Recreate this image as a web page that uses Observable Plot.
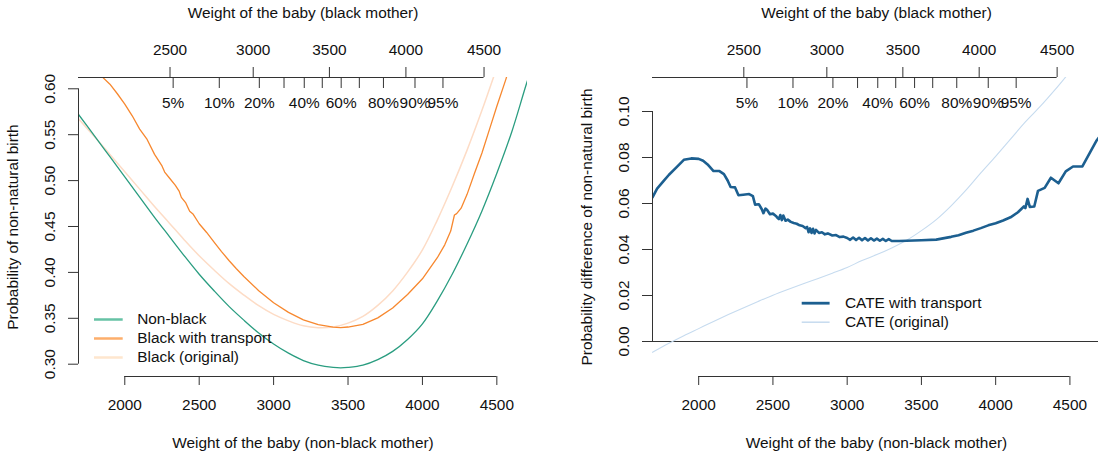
<!DOCTYPE html>
<html>
<head>
<meta charset="utf-8">
<script src="https://cdn.jsdelivr.net/npm/d3@7"></script>
<script src="https://cdn.jsdelivr.net/npm/@observablehq/plot@0.6"></script>
<style>
  body { margin: 0; background: #fff; overflow: hidden; }
  #wrap { position: relative; width: 1098px; height: 457px; overflow: hidden; }
  #wrap svg { position: absolute; top: 0; }
</style>
</head>
<body>
<div id="wrap"></div>
<script>
// ---------------- data ----------------
const xDomain = [1689, 4706];
const probTicks = [0.30, 0.35, 0.40, 0.45, 0.50, 0.55, 0.60];
const diffTicks = [0.00, 0.02, 0.04, 0.06, 0.08, 0.10];
const bottomTicks = [2000, 2500, 3000, 3500, 4000, 4500];
const blackTickLabels = ["2500", "3000", "3500", "4000", "4500"];
const blackTickPos = [2304, 2863, 3375, 3889, 4414];
const pctLabels = ["5%", "10%", "20%", "30%", "40%", "50%", "60%", "70%", "80%", "90%", "95%"];
const pctPos = [2325, 2635, 2904, 3070, 3206, 3327, 3454, 3576, 3738, 3950, 4138];
const pctShown = ["5%", "10%", "20%", "40%", "60%", "80%", "90%", "95%"];

const nonBlackW = [1689, 1800, 1900, 2000, 2100, 2200, 2300, 2400, 2500, 2600, 2700, 2800, 2900, 3000, 3100, 3200, 3300, 3400, 3450, 3500, 3600, 3700, 3800, 3900, 4000, 4100, 4200, 4300, 4400, 4500, 4600, 4700, 4800];
const nonBlackP = [0.572, 0.548, 0.526, 0.504, 0.482, 0.460, 0.439, 0.418, 0.398, 0.380, 0.363, 0.348, 0.334, 0.322, 0.312, 0.304, 0.299, 0.2965, 0.296, 0.2965, 0.299, 0.305, 0.314, 0.327, 0.344, 0.369, 0.398, 0.431, 0.467, 0.508, 0.553, 0.606, 0.656];

const transportW = [1800, 1850, 1900, 1950, 2000, 2050, 2100, 2150, 2200, 2250, 2268, 2300, 2340, 2365, 2380, 2410, 2436, 2460, 2500, 2550, 2600, 2650, 2700, 2750, 2800, 2900, 3000, 3100, 3200, 3300, 3400, 3450, 3500, 3600, 3700, 3800, 3900, 4000, 4100, 4150, 4190, 4215, 4230, 4260, 4300, 4350, 4400, 4450, 4500, 4560, 4620];
const transportP = [0.6205, 0.6127, 0.6050, 0.5946, 0.5834, 0.5706, 0.5561, 0.5448, 0.5286, 0.5160, 0.5093, 0.5028, 0.4947, 0.4886, 0.4817, 0.4757, 0.4666, 0.4633, 0.4530, 0.4435, 0.4330, 0.4227, 0.4130, 0.4040, 0.3955, 0.3801, 0.3670, 0.3565, 0.3483, 0.3431, 0.3403, 0.3399, 0.3405, 0.3433, 0.3505, 0.3613, 0.3760, 0.3930, 0.4160, 0.4300, 0.4450, 0.4625, 0.4640, 0.4700, 0.4850, 0.5080, 0.5300, 0.5555, 0.5810, 0.6100, 0.6420];

const originalW = [1689, 1800, 1900, 2000, 2100, 2200, 2300, 2400, 2500, 2600, 2700, 2800, 2900, 3000, 3100, 3200, 3300, 3400, 3500, 3600, 3700, 3800, 3900, 4000, 4100, 4200, 4300, 4400, 4500];
const originalP = [0.5673, 0.5472, 0.5285, 0.5096, 0.4907, 0.4717, 0.4536, 0.4354, 0.4181, 0.4026, 0.3880, 0.3753, 0.3637, 0.3542, 0.3472, 0.3418, 0.3397, 0.3405, 0.3447, 0.3520, 0.3640, 0.3798, 0.4003, 0.4245, 0.4570, 0.4935, 0.5332, 0.5765, 0.6232];

const cateTW = [1689, 1720, 1760, 1800, 1850, 1900, 1950, 2000, 2030, 2060, 2100, 2140, 2170, 2195, 2215, 2245, 2268, 2300, 2340, 2365, 2380, 2405, 2425, 2436, 2450, 2460, 2480, 2500, 2520, 2530, 2540, 2550, 2560, 2570, 2585, 2600, 2620, 2640, 2660, 2680, 2700, 2720, 2730, 2740, 2750, 2760, 2770, 2780, 2790, 2810, 2830, 2850, 2870, 2900, 2925, 2950, 2975, 3000, 3020, 3040, 3060, 3080, 3100, 3120, 3140, 3160, 3180, 3200, 3220, 3240, 3260, 3280, 3300, 3350, 3400, 3500, 3600, 3700, 3750, 3800, 3850, 3900, 3950, 4000, 4050, 4100, 4150, 4190, 4200, 4215, 4230, 4260, 4285, 4330, 4372, 4423, 4472, 4521, 4584, 4680, 4710];
const cateTV = [0.0627, 0.0665, 0.0695, 0.0725, 0.0757, 0.0790, 0.0796, 0.0794, 0.0786, 0.0770, 0.0741, 0.0741, 0.0728, 0.0700, 0.0672, 0.0670, 0.0636, 0.0638, 0.0641, 0.0632, 0.0595, 0.0597, 0.0575, 0.0558, 0.0578, 0.0573, 0.0553, 0.0556, 0.0546, 0.0538, 0.0532, 0.0550, 0.0528, 0.0548, 0.0525, 0.0530, 0.0520, 0.0515, 0.0512, 0.0505, 0.0502, 0.0493, 0.0498, 0.0475, 0.0492, 0.0472, 0.0490, 0.0470, 0.0485, 0.0472, 0.0475, 0.0466, 0.0470, 0.0461, 0.0463, 0.0454, 0.0456, 0.0450, 0.0442, 0.0452, 0.0441, 0.0451, 0.0440, 0.0450, 0.0439, 0.0449, 0.0439, 0.0447, 0.0438, 0.0446, 0.0437, 0.0445, 0.0437, 0.0437, 0.0438, 0.0440, 0.0443, 0.0455, 0.0462, 0.0473, 0.0482, 0.0493, 0.0505, 0.0514, 0.0526, 0.0540, 0.0562, 0.0587, 0.0580, 0.0620, 0.0585, 0.0587, 0.0655, 0.0668, 0.0712, 0.0688, 0.0740, 0.0761, 0.0761, 0.0874, 0.0900];

const cateOW = [1689, 1800, 1900, 2000, 2100, 2200, 2300, 2400, 2500, 2600, 2700, 2800, 2900, 3000, 3100, 3200, 3300, 3400, 3500, 3600, 3700, 3800, 3900, 4000, 4100, 4200, 4300, 4400, 4500, 4600];
const cateOV = [-0.0047, -0.0008, 0.0025, 0.0056, 0.0087, 0.0117, 0.0146, 0.0174, 0.0201, 0.0226, 0.0250, 0.0273, 0.0297, 0.0322, 0.0352, 0.0378, 0.0407, 0.0440, 0.0482, 0.0530, 0.0590, 0.0658, 0.0733, 0.0805, 0.0880, 0.0955, 0.1022, 0.1095, 0.1172, 0.1245];

const leftNames = ["Non-black", "Black with transport", "Black (original)"];
const rightNames = ["CATE with transport", "CATE (original)"];

// ---------------- drawing ----------------
const H = 457, MT = 77, MB = 81, ML = 78, FS = 15.4;
const ink = "#333";
const txt = {fontSize: FS, fill: "#111"};

function panel(cfg) {
  const {width, marginRight, yDomain, yTicks, yTitle, lines, legend, zeroLine} = cfg;
  const plotW = width - ML - marginRight, plotH = H - MT - MB;
  const marks = [];
  if (zeroLine) marks.push(Plot.ruleY([0], {stroke: ink, strokeWidth: 1}));
  for (const s of lines) {
    marks.push(Plot.line(d3.zip(s.x, s.y), {x: d => d[0], y: d => d[1], stroke: s.color, strokeWidth: s.width, curve: s.curve || "linear", clip: true}));
  }
  // left axis
  marks.push(Plot.ruleX([xDomain[0]], {y1: yTicks[0], y2: yTicks[yTicks.length - 1], stroke: ink}));
  marks.push(Plot.ruleY(yTicks, {insetLeft: -10, insetRight: plotW, stroke: ink}));
  marks.push(Plot.text(yTicks, {y: d => d, text: d => d3.format(".2f")(d), frameAnchor: "left", textAnchor: "middle", lineAnchor: "middle", rotate: -90, dx: -28, ...txt}));
  marks.push(Plot.text([yTitle], {text: d => d, frameAnchor: "left", textAnchor: "middle", lineAnchor: "middle", rotate: -90, dx: -65.4, ...txt}));
  // bottom axis
  marks.push(Plot.ruleY([yDomain[0]], {x1: bottomTicks[0], x2: bottomTicks[bottomTicks.length - 1], stroke: ink}));
  marks.push(Plot.ruleX(bottomTicks, {insetTop: plotH, insetBottom: -9, stroke: ink}));
  marks.push(Plot.text(bottomTicks, {x: d => d, text: d => String(d), frameAnchor: "bottom", lineAnchor: "middle", dy: 29, ...txt}));
  marks.push(Plot.text(["Weight of the baby (non-black mother)"], {text: d => d, frameAnchor: "bottom", lineAnchor: "middle", dy: 67, ...txt}));
  // top axis (black mother)
  marks.push(Plot.ruleY([yDomain[1]], {x1: xDomain[0], x2: blackTickPos[blackTickPos.length - 1], stroke: ink}));
  marks.push(Plot.ruleX(blackTickPos, {insetTop: -10, insetBottom: plotH, stroke: ink}));
  marks.push(Plot.text(blackTickLabels, {x: (d, i) => blackTickPos[i], text: d => d, frameAnchor: "top", lineAnchor: "middle", dy: -27, ...txt}));
  marks.push(Plot.ruleX(pctPos, {insetBottom: plotH - 11, stroke: ink}));
  marks.push(Plot.text(pctLabels, {x: (d, i) => pctPos[i], text: d => d, filter: d => pctShown.includes(d), frameAnchor: "top", lineAnchor: "middle", dy: 25.5, ...txt}));
  marks.push(Plot.text(["Weight of the baby (black mother)"], {text: d => d, frameAnchor: "top", lineAnchor: "middle", dy: -64, ...txt}));
  // legend
  legend.items.forEach((it, k) => {
    const dy = legend.dy0 + k * legend.step;
    marks.push(Plot.ruleY([yDomain[1]], {dy, insetLeft: legend.x1, insetRight: plotW - legend.x2, stroke: it.color, strokeWidth: it.width}));
    marks.push(Plot.text([it.name], {text: d => d, frameAnchor: "top-left", textAnchor: "start", lineAnchor: "middle", dx: legend.tx, dy, ...txt}));
  });
  return Plot.plot({
    width, height: H,
    marginTop: MT, marginBottom: MB, marginLeft: ML, marginRight,
    x: {domain: xDomain, axis: null},
    y: {domain: yDomain, axis: null},
    style: {fontFamily: "'Liberation Sans', Arial, Helvetica, sans-serif", fontSize: FS + "px", background: "transparent", overflow: "visible", color: "#111"},
    marks
  });
}

const left = panel({
  width: 549, marginRight: 22,
  yDomain: [0.2866, 0.6123], yTicks: probTicks,
  yTitle: "Probability of non-natural birth",
  lines: [
    {x: originalW, y: originalP, color: "#fddcc6", width: 1.5, curve: "catmull-rom"},
    {x: nonBlackW, y: nonBlackP, color: "#2a9d80", width: 1.3, curve: "catmull-rom"},
    {x: transportW, y: transportP, color: "#f7882f", width: 1.3}
  ],
  legend: {
    x1: 16, x2: 44.7, tx: 58.7, dy0: 242, step: 19,
    items: [
      {name: leftNames[0], color: "#66c2a5", width: 2.5},
      {name: leftNames[1], color: "#fdae6b", width: 2.5},
      {name: leftNames[2], color: "#fee6ce", width: 2.5}
    ]
  }
});

const right = panel({
  width: 526, marginRight: 0,
  yDomain: [-0.015217, 0.114783], yTicks: diffTicks,
  yTitle: "Probability difference of non-natural birth",
  zeroLine: true,
  lines: [
    {x: cateOW, y: cateOV, color: "#c6dbef", width: 1.1, curve: "catmull-rom"},
    {x: cateTW, y: cateTV, color: "#1c5f90", width: 2.6}
  ],
  legend: {
    x1: 149.7, x2: 177.6, tx: 192.4, dy0: 225.7, step: 19,
    items: [
      {name: rightNames[0], color: "#1c5f90", width: 2.8},
      {name: rightNames[1], color: "#c6dbef", width: 1.5}
    ]
  }
});

const wrap = document.getElementById("wrap");
left.style.left = "0px";
right.style.left = "574px";
wrap.appendChild(left);
wrap.appendChild(right);
</script>
</body>
</html>
